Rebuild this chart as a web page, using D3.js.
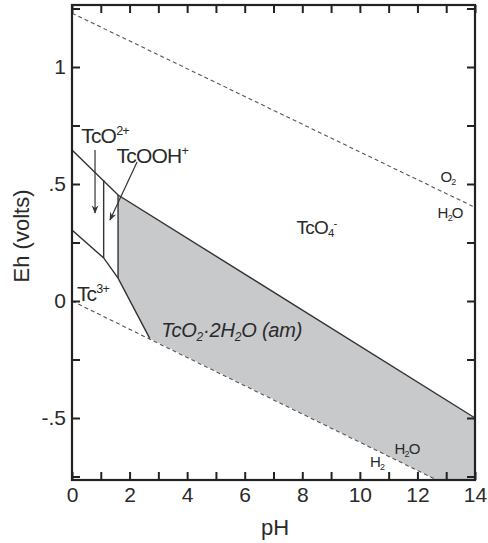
<!DOCTYPE html>
<html>
<head>
<meta charset="utf-8">
<script src="https://cdn.jsdelivr.net/npm/d3@7"></script>
<style>
  body { margin: 0; background: #fff; }
  text { font-family: "Liberation Sans", Arial, sans-serif; fill: #2a2a2a; }
</style>
</head>
<body>
<svg id="chart" width="488" height="543"></svg>
<script>
// pH / Eh values
const phMajor = [0, 2, 4, 6, 8, 10, 12, 14];
const phMinor = d3.range(0, 15, 1);
const ehMajor = [-0.5, 0, 0.5, 1];
const ehMajorLabels = ["-.5", "0", ".5", "1"];
const ehMinor = [-0.75, -0.5, -0.25, 0, 0.25, 0.5, 0.75, 1, 1.25];

// water stability lines
const waterO2 = [[0, 1.23], [14, 0.40]];
const waterH2 = [[0, 0], [14, -0.845]];

// stability field boundaries
const tco4Line = [[0, 0.645], [1.6, 0.453], [14, -0.5]];
const tc3Line = [[0, 0.303], [1.1, 0.184], [1.6, 0.098], [2.7, -0.16]];
const tcoVert = [[1.1, 0.517], [1.1, 0.184]];
const tcoohVert = [[1.6, 0.453], [1.6, 0.098]];
// TcO2.2H2O(am) field
const tco2Field = [[1.6, 0.453], [14, -0.5], [14, -0.845], [2.7, -0.16], [1.6, 0.098]];

const svg = d3.select("#chart");
const margin = {top: 5, right: 13, bottom: 63, left: 72};
const width = 488 - margin.left - margin.right;
const height = 543 - margin.top - margin.bottom;

const x = d3.scaleLinear().domain([0, 14]).range([margin.left, margin.left + width]);
const y = d3.scaleLinear().domain([-0.765, 1.265]).range([margin.top + height, margin.top]);

const line = d3.line().x(d => x(d[0])).y(d => y(d[1]));

svg.append("defs").append("clipPath").attr("id", "plot")
  .append("rect")
  .attr("x", margin.left).attr("y", margin.top)
  .attr("width", width).attr("height", height);

const g = svg.append("g").attr("clip-path", "url(#plot)");

// gray field
g.append("path")
  .attr("d", line(tco2Field) + "Z")
  .attr("fill", "#c8c9cb");

// dashed water lines
[waterO2, waterH2].forEach(d => {
  g.append("path").attr("d", line(d))
    .attr("fill", "none").attr("stroke", "#555")
    .attr("stroke-width", 1.1).attr("stroke-dasharray", "4,3");
});

// solid boundaries
[tco4Line, tc3Line, tcoVert, tcoohVert].forEach(d => {
  g.append("path").attr("d", line(d))
    .attr("fill", "none").attr("stroke", "#333")
    .attr("stroke-width", 1.4);
});

// arrows
const defs = svg.select("defs");
defs.append("marker").attr("id", "arrow")
  .attr("viewBox", "0 0 10 10").attr("refX", 9).attr("refY", 5)
  .attr("markerWidth", 7).attr("markerHeight", 9)
  .attr("orient", "auto-start-reverse")
  .append("path").attr("d", "M0,1 L10,5 L0,9 L3,5 Z").attr("fill", "#333");

const arrows = [
  [[0.8, 0.645], [0.8, 0.376]],
  [[2.26, 0.594], [1.32, 0.346]]
];
arrows.forEach(d => {
  svg.append("path").attr("d", line(d))
    .attr("fill", "none").attr("stroke", "#333").attr("stroke-width", 1.2)
    .attr("marker-end", "url(#arrow)");
});

// axes with inward ticks
const tick = 8;
svg.append("g").attr("transform", `translate(0,${margin.top + height})`)
  .call(d3.axisBottom(x).tickValues(phMinor).tickSize(-tick).tickPadding(7)
    .tickFormat(d => phMajor.includes(d) ? d : ""));
svg.append("g").attr("transform", `translate(0,${margin.top})`)
  .call(d3.axisTop(x).tickValues(phMinor).tickSize(-tick).tickFormat(""));
svg.append("g").attr("transform", `translate(${margin.left},0)`)
  .call(d3.axisLeft(y).tickValues(ehMinor).tickSize(-tick).tickPadding(6)
    .tickFormat(d => {
      const i = ehMajor.indexOf(d);
      return i >= 0 ? ehMajorLabels[i] : "";
    }));
svg.append("g").attr("transform", `translate(${margin.left + width},0)`)
  .call(d3.axisRight(y).tickValues(ehMinor).tickSize(-tick).tickFormat(""));

svg.selectAll(".domain").remove();
svg.selectAll(".tick line").attr("stroke", "#222").attr("stroke-width", 2);
svg.selectAll(".tick text").attr("font-size", 21).attr("fill", "#2a2a2a")
  .attr("font-family", "Liberation Sans, Arial, sans-serif");

svg.append("rect")
  .attr("x", margin.left).attr("y", margin.top)
  .attr("width", width).attr("height", height)
  .attr("fill", "none").attr("stroke", "#222").attr("stroke-width", 2.2);

// axis titles
svg.append("text").attr("x", 275).attr("y", 535)
  .attr("text-anchor", "middle").attr("font-size", 22).text("pH");
svg.append("text").attr("transform", "translate(29,236) rotate(-90)")
  .attr("text-anchor", "middle").attr("font-size", 22).text("Eh (volts)");

// species labels: parts = [text, shift] where shift is "sup", "sub" or ""
function label(px, py, size, parts, italic, spacing) {
  const t = svg.append("text").attr("x", x(px)).attr("y", y(py))
    .attr("font-size", size).attr("letter-spacing", spacing === undefined ? -0.8 : spacing);
  if (italic) t.attr("font-style", "italic");
  parts.forEach(p => {
    const s = t.append("tspan").text(p[0]);
    if (p[1] === "sup") s.attr("font-size", size * 0.6).attr("baseline-shift", "65%");
    if (p[1] === "sub") s.attr("font-size", size * 0.6).attr("baseline-shift", "-30%");
  });
}

label(0.32, 0.675, 21, [["TcO", ""], ["2+", "sup"]]);
label(1.55, 0.59, 21, [["TcOOH", ""], ["+", "sup"]]);
label(0.17, 0.0, 21, [["Tc", ""], ["3+", "sup"]]);
label(7.8, 0.285, 19, [["TcO", ""], ["4", "sub"], ["-", "sup"]]);
label(3.1, -0.155, 20, [["TcO", ""], ["2", "sub"], ["·2H", ""], ["2", "sub"], ["O (am)", ""]], true, -0.2);
label(12.8, 0.51, 15, [["O", ""], ["2", "sub"]]);
label(12.7, 0.355, 15, [["H", ""], ["2", "sub"], ["O", ""]]);
label(11.2, -0.655, 15, [["H", ""], ["2", "sub"], ["O", ""]]);
label(10.35, -0.71, 15, [["H", ""], ["2", "sub"]]);
</script>
</body>
</html>
